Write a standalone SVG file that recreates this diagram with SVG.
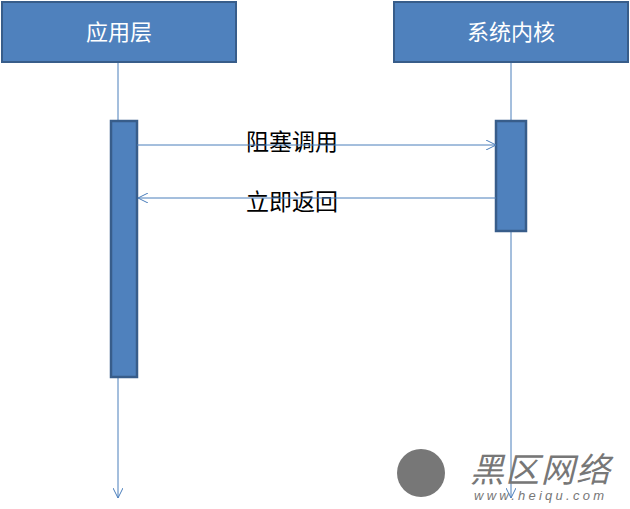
<svg xmlns="http://www.w3.org/2000/svg" width="630" height="509" viewBox="0 0 630 509">
<style>
.box{fill:#4f81bd;stroke:#385d8a;stroke-width:2}
.act{fill:#4f81bd;stroke:#385d8a;stroke-width:2.5}
.ln{stroke:#4a7ebb;stroke-width:1;fill:none}
.ht{font-family:"Liberation Sans","Noto Sans CJK SC",sans-serif;font-size:22px;fill:#fff;text-anchor:middle}
.lb{font-family:"Liberation Sans","Noto Sans CJK SC",sans-serif;font-size:23px;fill:#000}
</style>
<defs>
<marker id="ar" viewBox="0 0 10 10" refX="10" refY="5" markerWidth="10" markerHeight="10" markerUnits="userSpaceOnUse" orient="auto"><path d="M0,0 L10,5 L0,10" fill="none" stroke="#4a7ebb" stroke-width="1"/></marker>
</defs>
<rect width="630" height="509" fill="#fff"/>
<g id="connectors">
<line class="ln" x1="118" y1="62" x2="118" y2="498" marker-end="url(#ar)"/>
<line class="ln" x1="511" y1="62" x2="511" y2="498" marker-end="url(#ar)"/>
</g>
<g id="app"><rect class="box" x="2" y="2" width="234" height="60"/><text class="ht" x="119" y="40">应用层</text></g>
<g id="kernel"><rect class="box" x="394" y="2" width="234" height="60"/><text class="ht" x="511" y="40">系统内核</text></g>
<g id="appAct"><rect class="act" x="111" y="121" width="26" height="256"/></g>
<g id="kernelAct"><rect class="act" x="496" y="121" width="30" height="110"/></g>
<g id="messages">
<text class="lb" x="246" y="150">阻塞调用</text>
<text class="lb" x="246" y="210">立即返回</text>
<line class="ln" x1="137" y1="145" x2="496" y2="145" marker-end="url(#ar)"/>
<line class="ln" x1="496" y1="198" x2="138" y2="198" marker-end="url(#ar)"/>
</g>
<g id="watermark" fill="#777">
<circle cx="421" cy="473" r="24"/>
<text x="470" y="482" font-family="Liberation Sans,Noto Sans CJK SC,sans-serif" font-size="34" font-style="italic" textLength="140">黑区网络</text>
<text x="474" y="500" font-family="Liberation Sans,sans-serif" font-size="13" font-style="italic" textLength="130">www.heiqu.com</text>
</g>
</svg>
